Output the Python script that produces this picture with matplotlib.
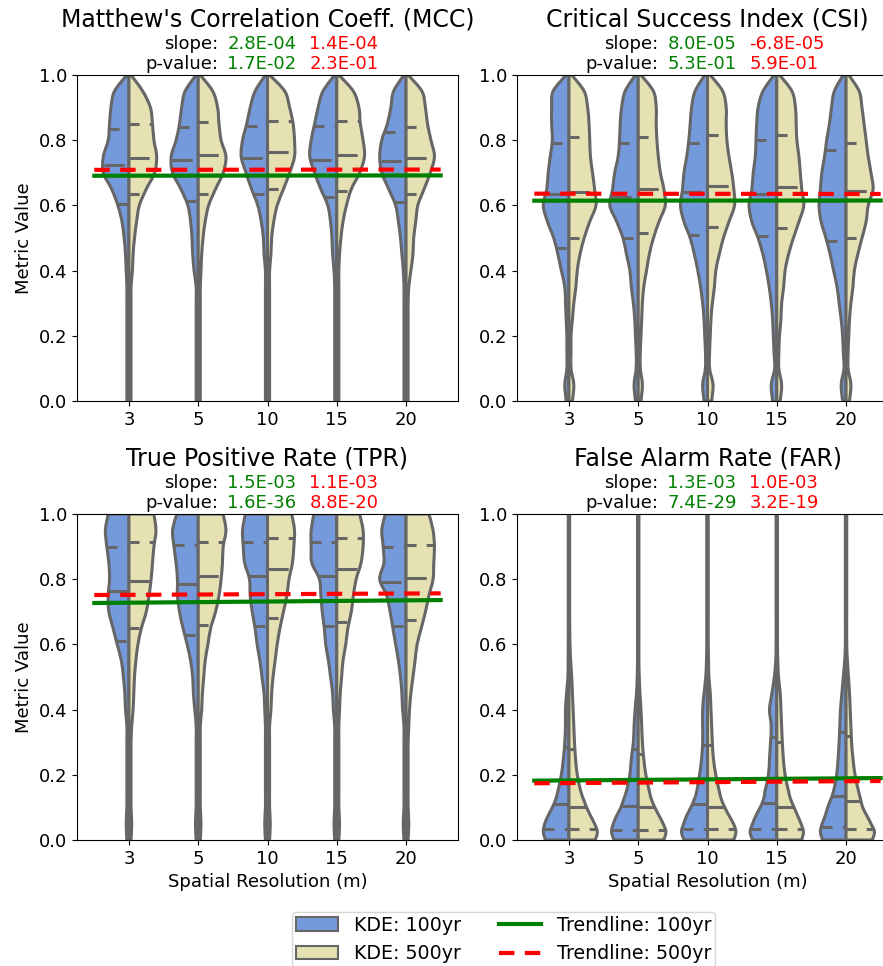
import numpy as np
import matplotlib
matplotlib.use('Agg')
import matplotlib.pyplot as plt
from matplotlib.path import Path
from matplotlib.patches import PathPatch, Patch
from matplotlib.lines import Line2D

# ---- data ----
res_labels = ['3', '5', '10', '15', '20']
titles = ["Matthew's Correlation Coeff. (MCC)", 'Critical Success Index (CSI)',
          'True Positive Rate (TPR)', 'False Alarm Rate (FAR)']
slope_100 = ['2.8E-04', '8.0E-05', '1.5E-03', '1.3E-03']
slope_500 = ['1.4E-04', '-6.8E-05', '1.1E-03', '1.0E-03']
pval_100 = ['1.7E-02', '5.3E-01', '1.6E-36', '7.4E-29']
pval_500 = ['2.3E-01', '5.9E-01', '8.8E-20', '3.2E-19']

# trendline values at the left / right end of the axis
trend_100 = [(0.691, 0.692), (0.6145, 0.6150), (0.727, 0.736), (0.182, 0.190)]
trend_500 = [(0.709, 0.710), (0.636, 0.635), (0.7515, 0.7566), (0.174, 0.181)]

# metric levels where the KDE half-widths were read
levels_main = [0.0, 0.05, 0.1, 0.15, 0.2, 0.25, 0.3, 0.35, 0.4, 0.45, 0.5,
               0.55, 0.6, 0.65, 0.7, 0.75, 0.8, 0.85, 0.9, 0.95, 1.0]
levels_far = [0.0, 0.025, 0.05, 0.075, 0.1, 0.125, 0.15, 0.2, 0.25, 0.3,
              0.35, 0.4, 0.45, 0.5, 0.55, 0.6, 0.7, 0.8, 0.9, 1.0]

# KDE half-widths (hundredths of a category), one row per resolution
mcc_w100 = [[3, 3, 3, 3, 3, 3, 3, 3, 4, 5, 7, 10, 16, 25, 37, 37, 30, 28, 26, 21, 3],
            [3, 3, 3, 3, 3, 3, 3, 3, 6, 8, 9, 11, 15, 25, 37, 39, 32, 27, 24, 19, 3],
            [3, 3, 3, 3, 3, 3, 3, 3, 3, 5, 6, 9, 14, 23, 31, 38, 36, 30, 25, 18, 3],
            [3, 3, 3, 3, 3, 3, 3, 3, 4, 6, 7, 9, 13, 23, 32, 39, 37, 32, 27, 20, 3],
            [3, 3, 3, 3, 3, 3, 3, 3, 4, 6, 8, 11, 15, 25, 35, 38, 35, 27, 22, 18, 3]]
mcc_w500 = [[3, 3, 3, 3, 3, 3, 3, 3, 5, 6, 8, 11, 15, 25, 37, 40, 36, 34, 31, 20, 3],
            [3, 3, 3, 3, 3, 3, 3, 3, 4, 5, 7, 10, 15, 25, 36, 40, 33, 30, 28, 21, 3],
            [3, 3, 3, 3, 3, 3, 3, 3, 3, 5, 6, 9, 14, 23, 32, 39, 39, 37, 32, 25, 3],
            [3, 3, 3, 3, 3, 3, 3, 3, 3, 4, 6, 9, 14, 21, 33, 40, 38, 34, 32, 24, 3],
            [3, 3, 3, 3, 3, 3, 3, 4, 7, 10, 11, 14, 17, 26, 35, 41, 36, 31, 28, 23, 3]]
csi_w100 = [[4, 6, 3, 3, 3, 4, 5, 6, 11, 16, 22, 31, 37, 32, 30, 27, 24, 25, 25, 23, 4],
            [4, 6, 3, 3, 4, 5, 7, 10, 12, 17, 22, 31, 41, 37, 34, 29, 27, 26, 24, 19, 4],
            [5, 7, 3, 3, 4, 5, 7, 10, 14, 19, 25, 34, 39, 36, 34, 30, 27, 25, 23, 18, 4],
            [6, 8, 3, 4, 5, 6, 8, 11, 15, 20, 27, 36, 40, 36, 34, 31, 30, 29, 27, 20, 4],
            [5, 7, 3, 4, 5, 7, 10, 13, 18, 23, 29, 36, 39, 37, 35, 31, 28, 24, 21, 17, 4]]
csi_w500 = [[5, 7, 3, 3, 3, 5, 7, 10, 12, 16, 22, 30, 39, 37, 34, 31, 30, 29, 27, 22, 4],
            [4, 6, 3, 3, 4, 5, 6, 8, 12, 16, 22, 30, 39, 37, 32, 29, 27, 26, 26, 22, 4],
            [6, 8, 3, 3, 4, 5, 7, 10, 12, 17, 23, 31, 39, 38, 35, 31, 28, 27, 27, 22, 4],
            [5, 7, 3, 3, 4, 6, 7, 10, 12, 17, 24, 32, 39, 36, 34, 32, 29, 28, 27, 22, 4],
            [5, 7, 3, 3, 4, 5, 7, 10, 12, 17, 23, 29, 32, 39, 36, 32, 29, 26, 23, 19, 4]]
tpr_w100 = [[3, 4, 3, 3, 3, 3, 3, 3, 5, 6, 8, 11, 17, 23, 29, 30, 28, 29, 32, 34, 30],
            [3, 4, 3, 3, 3, 3, 3, 3, 5, 7, 8, 11, 16, 22, 27, 30, 30, 32, 35, 37, 31],
            [3, 4, 3, 3, 3, 3, 3, 3, 4, 5, 8, 11, 15, 18, 22, 25, 26, 33, 35, 36, 32],
            [3, 4, 3, 3, 3, 3, 3, 3, 5, 6, 9, 12, 16, 18, 21, 23, 25, 36, 37, 37, 33],
            [3, 4, 3, 3, 3, 3, 3, 3, 5, 6, 8, 11, 15, 19, 23, 28, 38, 32, 33, 35, 30]]
tpr_w500 = [[3, 4, 3, 3, 3, 3, 3, 4, 6, 7, 8, 10, 13, 18, 25, 29, 32, 34, 36, 39, 36],
            [3, 4, 3, 3, 3, 3, 3, 3, 5, 6, 8, 10, 14, 18, 25, 30, 33, 35, 36, 40, 36],
            [3, 4, 3, 3, 3, 3, 3, 3, 5, 6, 8, 11, 14, 18, 23, 28, 31, 36, 38, 39, 35],
            [3, 4, 3, 3, 3, 3, 3, 3, 4, 5, 7, 9, 13, 16, 21, 24, 28, 35, 38, 38, 33],
            [3, 4, 3, 3, 3, 3, 3, 4, 5, 7, 10, 13, 16, 22, 28, 33, 39, 40, 41, 39, 33]]
far_w100 = [[34, 37, 35, 30, 24, 19, 16, 11, 8, 6, 5, 5, 3.5, 1.5, 1.2, 1, 1, 1, 1, 1],
            [35, 38.5, 36, 31, 25, 21, 17, 12, 10, 7, 6, 4.5, 2.5, 1.5, 1, 1, 1, 1, 1, 1],
            [34, 37.5, 34.5, 30, 24, 19, 15.5, 11.5, 8.5, 7, 7, 7, 5, 2.5, 1.5, 1, 1, 1, 1, 1],
            [35, 38.5, 35, 30, 24, 19, 17, 12, 10.5, 9, 8, 10.5, 7, 3.5, 1.5, 1, 1, 1, 1, 1],
            [34, 37, 34.5, 30, 26.5, 22, 18, 13.5, 11.5, 10, 9, 8, 6, 4, 2, 1, 1, 1, 1, 1]]
far_w500 = [[38, 41, 37, 31, 25.5, 21, 17, 12, 9.5, 8, 7, 6, 5, 4, 2.5, 1.5, 1, 1, 1, 1],
            [37, 40, 36, 30, 24, 19, 16, 11, 8, 6, 5, 4, 2.5, 1.5, 1, 1, 1, 1, 1, 1],
            [38, 41, 37.5, 31, 25, 20, 17, 12, 8.5, 7, 6, 5, 4, 2, 1.5, 1, 1, 1, 1, 1],
            [36, 38.5, 35, 30, 25, 20, 17, 12, 9.5, 8, 7, 6, 5, 2.5, 1.5, 1, 1, 1, 1, 1],
            [38, 41, 36, 30, 24, 21, 18, 13, 10, 8, 7, 6, 5, 3.5, 2, 1, 1, 1, 1, 1]]

# quartiles (q1, median, q3)
mcc_q100 = [(0.605, 0.725, 0.835), (0.615, 0.74, 0.84), (0.635, 0.745, 0.845),
            (0.625, 0.74, 0.845), (0.61, 0.735, 0.825)]
mcc_q500 = [(0.635, 0.745, 0.85), (0.635, 0.755, 0.855), (0.65, 0.765, 0.86),
            (0.645, 0.755, 0.86), (0.635, 0.745, 0.84)]
csi_q100 = [(0.47, 0.635, 0.79), (0.50, 0.625, 0.79), (0.51, 0.64, 0.79),
            (0.505, 0.635, 0.80), (0.49, 0.615, 0.77)]
csi_q500 = [(0.50, 0.64, 0.81), (0.515, 0.65, 0.81), (0.535, 0.66, 0.815),
            (0.53, 0.655, 0.815), (0.50, 0.645, 0.79)]
tpr_q100 = [(0.61, 0.765, 0.90), (0.63, 0.785, 0.905), (0.655, 0.81, 0.915),
            (0.655, 0.81, 0.915), (0.655, 0.79, 0.90)]
tpr_q500 = [(0.65, 0.795, 0.915), (0.66, 0.81, 0.915), (0.68, 0.83, 0.925),
            (0.67, 0.83, 0.925), (0.675, 0.805, 0.905)]
far_q100 = [(0.035, 0.11, 0.285), (0.03, 0.105, 0.28), (0.035, 0.11, 0.29),
            (0.035, 0.115, 0.315), (0.04, 0.135, 0.33)]
far_q500 = [(0.035, 0.10, 0.28), (0.03, 0.10, 0.265), (0.035, 0.10, 0.29),
            (0.035, 0.10, 0.30), (0.035, 0.12, 0.32)]

panels = [(levels_main, mcc_w100, mcc_w500, mcc_q100, mcc_q500),
          (levels_main, csi_w100, csi_w500, csi_q100, csi_q500),
          (levels_main, tpr_w100, tpr_w500, tpr_q100, tpr_q500),
          (levels_far, far_w100, far_w500, far_q100, far_q500)]

# ---- style ----
c100 = '#759adc'
c500 = '#e6e1b3'
gray = '#666666'
lw = 2.2
fs = 13


def half_violin(ax, c, side, levels, widths, color):
    # side -1 = left half, +1 = right half; smooth edge via Catmull-Rom
    ys = np.asarray(levels, float)
    ws = np.asarray(widths, float) / 100.0
    P = np.column_stack([c + side * ws, ys])
    verts = [(c, ys[0]), tuple(P[0])]
    codes = [Path.MOVETO, Path.LINETO]
    n = len(P)
    for i in range(n - 1):
        p0 = P[max(i - 1, 0)]
        p1 = P[i]
        p2 = P[i + 1]
        p3 = P[min(i + 2, n - 1)]
        verts += [tuple(p1 + (p2 - p0) / 6), tuple(p2 - (p3 - p1) / 6), tuple(p2)]
        codes += [Path.CURVE4] * 3
    verts += [(c, ys[-1]), (c, ys[0])]
    codes += [Path.LINETO, Path.CLOSEPOLY]
    ax.add_patch(PathPatch(Path(verts, codes), facecolor=color, edgecolor=gray,
                           lw=lw, joinstyle='round', zorder=2))


def quart_lines(ax, c, side, levels, widths, quarts):
    ws = np.asarray(widths, float) / 100.0
    for k, q in enumerate(quarts):
        w = np.interp(q, levels, ws) * 0.99
        d = (6.6, 6.6) if k == 1 else (3.3, 3.3)
        if side < 0:
            xs = [c - w, c]
        else:
            xs = [c, c + w]
        ax.plot(xs, [q, q], color=gray, lw=lw, dashes=d, zorder=3)


W, H = 883, 966
fig = plt.figure(figsize=(W / 100, H / 100), dpi=100)
ax_w, ax_h = 381, 326
corners = [(77, 75), (517, 75), (77, 514), (517, 514)]

for i, (levels, w100, w500, q100, q500) in enumerate(panels):
    left, top = corners[i]
    ax = fig.add_axes([left / W, 1 - (top + ax_h) / H, ax_w / W, ax_h / H])
    for j in range(len(res_labels)):
        half_violin(ax, j, -1, levels, w100[j], c100)
        half_violin(ax, j, 1, levels, w500[j], c500)
        quart_lines(ax, j, -1, levels, w100[j], q100[j])
        quart_lines(ax, j, 1, levels, w500[j], q500[j])

    ax.plot([-0.5, 4.5], trend_100[i], color='green', lw=3, zorder=4)
    ax.plot([-0.5, 4.5], trend_500[i], color='red', lw=3, dashes=(3.7, 2.5), zorder=5)

    ax.set_xlim(-0.75, 4.75)
    ax.set_ylim(0, 1)
    ax.set_xticks(range(len(res_labels)))
    ax.set_xticklabels(res_labels)
    ax.set_yticks([0, 0.2, 0.4, 0.6, 0.8, 1.0])
    ax.set_yticklabels(['0.0', '0.2', '0.4', '0.6', '0.8', '1.0'])
    ax.tick_params(labelsize=fs)
    ax.set_title(titles[i], fontsize=17, pad=35)

    # slope / p-value lines
    for txt, v100, v500, dy in [('slope:', slope_100[i], slope_500[i], 26),
                                ('p-value:', pval_100[i], pval_500[i], 6)]:
        ax.annotate(txt, xy=(0.372, 1), xycoords='axes fraction', xytext=(0, dy),
                    textcoords='offset pixels', ha='right', va='baseline', fontsize=fs)
        ax.annotate(v100, xy=(0.395, 1), xycoords='axes fraction', xytext=(0, dy),
                    textcoords='offset pixels', ha='left', va='baseline', fontsize=fs,
                    color='green')
        ax.annotate(v500, xy=(0.61, 1), xycoords='axes fraction', xytext=(0, dy),
                    textcoords='offset pixels', ha='left', va='baseline', fontsize=fs,
                    color='red')

    if i % 2 == 0:
        ax.set_ylabel('Metric Value', fontsize=fs)
    if i >= 2:
        ax.set_xlabel('Spatial Resolution (m)', fontsize=fs)

handles = [Patch(facecolor=c100, edgecolor=gray, lw=1.5),
           Patch(facecolor=c500, edgecolor=gray, lw=1.5),
           Line2D([], [], color='green', lw=3),
           Line2D([], [], color='red', lw=3, dashes=(3.7, 2.5))]
labels = ['KDE: 100yr', 'KDE: 500yr', 'Trendline: 100yr', 'Trendline: 500yr']
fig.legend(handles, labels, loc='upper left', bbox_to_anchor=(292 / W, 1 - 912 / H),
           ncol=2, fontsize=13.7, borderaxespad=0, borderpad=0.2, handlelength=2.2,
           handletextpad=0.85, columnspacing=2.0)

fig.savefig('out.png', dpi=100)
